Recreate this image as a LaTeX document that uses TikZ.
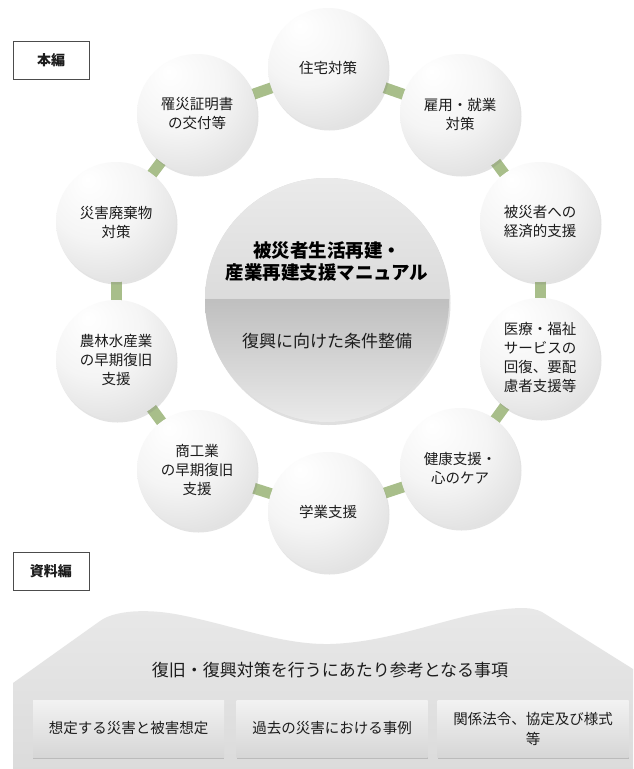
\documentclass[tikz,border=0pt]{standalone}
\usepackage{fontspec}
\setmainfont{Noto Sans CJK JP}
\usetikzlibrary{shadows,backgrounds}
\definecolor{barg}{RGB}{168,190,138}
\definecolor{txt}{RGB}{28,28,28}
\pgfdeclareradialshading{orb}{\pgfpoint{-12bp}{18bp}}{color(0bp)=(white); color(20bp)=(white!96!black); color(50bp)=(white!82!black); color(72bp)=(white!70!black)}
\tikzset{
  orbnode/.style={circle, minimum size=120pt, inner sep=0pt, shade, shading=orb,
    align=center, text=txt, font=\fontsize{14.5}{19}\selectfont,
    drop shadow={opacity=0.22, shadow xshift=1.5pt, shadow yshift=-2.5pt}},
  labelbox/.style={draw=black!70, fill=white, minimum width=76pt, minimum height=38pt,
    inner sep=0pt, text=txt, font=\bfseries\fontsize{14}{16}\selectfont},
  btmbox/.style={minimum width=191pt, minimum height=57pt, inner sep=2pt,
    top color=white!95!black, bottom color=white!84!black, text=txt,
    drop shadow={opacity=0.35, shadow xshift=0pt, shadow yshift=-2pt},
    align=center, font=\fontsize{14.5}{20}\selectfont},
  greenbar/.style={draw=barg, line width=11pt},
}
\begin{document}
\begin{tikzpicture}[x=1pt,y=-1pt]
\useasboundingbox (0,0) rectangle (633,769);

% label boxes
\node[labelbox] (honpen) at (51,60) {本編};
\node[labelbox] (shiryo) at (51,571) {資料編};

% central circle
\node[circle, minimum size=244pt, inner sep=0pt, fill=white!85!black,
      drop shadow={opacity=0.25, shadow xshift=1.5pt, shadow yshift=-3pt}] (core) at (327,300) {};
\begin{scope}
  \clip (core.center) circle (122pt);
  \shade[top color=white!92!black, bottom color=white!86!black] (200,175) rectangle (455,299);
  \shade[top color=white!75!black, bottom color=white!92!black] (200,299) rectangle (455,425);
\end{scope}
\node[font=\bfseries\fontsize{18.5}{22}\selectfont, align=center, text=black] (title) at (327,261) {被災者生活再建・\\産業再建支援マニュアル};
\node[font=\fontsize{17}{20}\selectfont, text=txt] (sub) at (327,341) {復興に向けた条件整備};

% ring of circles
\node[orbnode] (c1) at (328,68) {住宅対策};
\node[orbnode] (c2) at (460,114) {雇用・就業\\対策};
\node[orbnode] (c3) at (540,222) {被災者への\\経済的支援};
\node[orbnode] (c4) at (540,358) {医療・福祉\\サービスの\\回復、要配\\慮者支援等};
\node[orbnode] (c5) at (460,468) {健康支援・\\心のケア};
\node[orbnode] (c6) at (328,512) {学業支援};
\node[orbnode] (c7) at (197,470) {商工業\\の早期復旧\\支援};
\node[orbnode] (c8) at (116,360) {農林水産業\\の早期復旧\\支援};
\node[orbnode] (c9) at (116,222) {災害廃棄物\\対策};
\node[orbnode] (c10) at (197,114) {罹災証明書\\の交付等};

% reference section
\shade[top color=white!91!black, bottom color=white!86!black]
  (13,769) -- (13,683) -- (100,621)
  .. controls (112,612) and (140,608) .. (175,614)
  .. controls (230,624) and (280,645) .. (330,644)
  .. controls (400,642) and (460,610) .. (520,608)
  .. controls (530,608) and (536,609) .. (542,612)
  -- (633,669) -- (633,769) -- cycle;
\node[font=\fontsize{17}{20}\selectfont, text=txt] (ref) at (330,670) {復旧・復興対策を行うにあたり参考となる事項};
\node[btmbox] (b1) at (128.5,728.5) {想定する災害と被害想定};
\node[btmbox] (b2) at (332,728.5) {過去の災害における事例};
\node[btmbox] (b3) at (533,728.5) {関係法令、協定及び様式\\等};

\begin{scope}[on background layer]
  \fill[white] (0,0) rectangle (633,769);
  \foreach \i/\j in {1/2,2/3,3/4,4/5,5/6,6/7,7/8,8/9,9/10,10/1}
    \draw[greenbar] (c\i.center) -- (c\j.center);
\end{scope}
\end{tikzpicture}
\end{document}
